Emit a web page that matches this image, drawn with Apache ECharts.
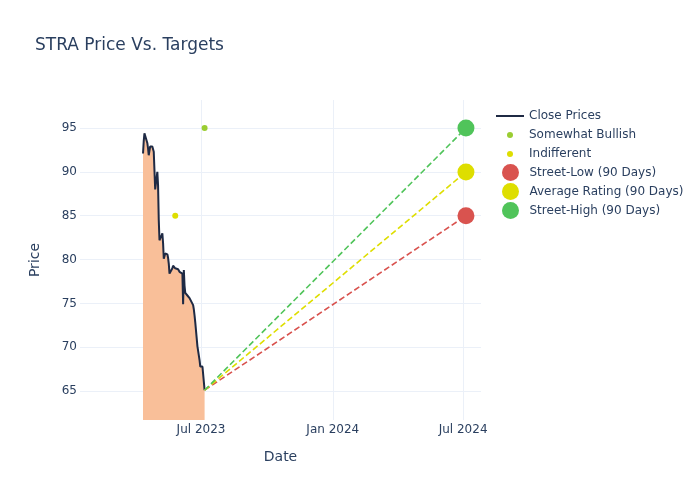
<!DOCTYPE html>
<html>
<head>
<meta charset="utf-8">
<script src="https://cdn.jsdelivr.net/npm/echarts@6/dist/echarts.min.js"></script>
<style>html,body{margin:0;padding:0;background:#fff}#c{width:700px;height:500px}</style>
</head>
<body>
<div id="c"></div>
<script>
const closeDates = ['2023-04-11','2023-04-12','2023-04-13','2023-04-14','2023-04-17','2023-04-18','2023-04-19','2023-04-20','2023-04-21','2023-04-24','2023-04-25','2023-04-26','2023-04-27','2023-04-28','2023-05-01','2023-05-02','2023-05-03','2023-05-04','2023-05-05','2023-05-08','2023-05-09','2023-05-10','2023-05-11','2023-05-12','2023-05-15','2023-05-16','2023-05-17','2023-05-18','2023-05-19','2023-05-22','2023-05-23','2023-05-24','2023-05-25','2023-05-26','2023-05-30','2023-05-31','2023-06-01','2023-06-02','2023-06-05','2023-06-06','2023-06-07','2023-06-08','2023-06-09','2023-06-12','2023-06-13','2023-06-14','2023-06-15','2023-06-16','2023-06-20','2023-06-21','2023-06-22','2023-06-23','2023-06-26','2023-06-27','2023-06-28','2023-06-29','2023-06-30','2023-07-03','2023-07-05','2023-07-06'];
const closePrices = [92.1,93.5,94.4,94.3,93.3,92.7,91.9,92.4,92.9,92.9,92.8,92.3,92.2,88.0,90.0,88.5,84.5,82.2,82.0,83.0,81.9,80.1,80.3,80.7,80.6,80.2,79.5,78.4,78.6,79.0,79.3,79.4,79.2,79.0,78.9,78.8,78.6,78.5,78.4,74.9,78.8,77.0,76.2,75.9,75.8,75.7,75.6,75.5,74.8,74.3,73.6,72.8,70.1,70.2,70.1,68.5,67.8,67.8,67.6,65.1];
const somewhatBullish = [['2023-07-06', 95]];
const indifferent = [['2023-05-26', 85]];
const targetDate = '2024-07-05';
const streetLow = 85;
const averageRating = 90;
const streetHigh = 95;
const xTicks = ['2023-07-01','2024-01-01','2024-07-01'];
const xTickLabels = ['Jul 2023','Jan 2024','Jul 2024'];
const yTicks = [65,70,75,80,85,90,95];

const FONT = 'DejaVu Sans';
const TXT = '#2a3f5f';
const GRID = '#ebf0f8';
const cRed = '#d9534f', cYel = '#dede00', cGrn = '#50c45a';

const ts = d => new Date(d + 'T00:00:00Z').getTime();
const lastDate = ts(closeDates[closeDates.length - 1]);
const lastClose = closePrices[closePrices.length - 1];
const tDate = ts(targetDate);
const xTickTs = xTicks.map(ts);
const labelMap = {};
xTickTs.forEach((t, i) => labelMap[t] = xTickLabels[i]);
const pts = arr => arr.map(p => [ts(p[0]), p[1]]);

const chart = echarts.init(document.getElementById('c'), null, {renderer: 'canvas'});
const legendText = {color: TXT, fontSize: 12, fontFamily: FONT};
chart.setOption({
  animation: false,
  backgroundColor: '#fff',
  textStyle: {fontFamily: FONT},
  title: {text: 'STRA Price Vs. Targets', left: 30, top: 32, textStyle: {color: TXT, fontSize: 17, fontWeight: 'normal', fontFamily: FONT}},
  grid: {left: 80, right: 219, top: 100, bottom: 80, containLabel: false},
  legend: [
    {orient: 'vertical', left: 491, top: 105, itemWidth: 28, itemHeight: 2, itemGap: 5, textStyle: legendText,
     data: [{name: 'Close Prices', icon: 'rect'}]},
    {orient: 'vertical', left: 502, top: 124, itemWidth: 28, itemHeight: 6, itemGap: 7, textStyle: legendText,
     data: [{name: 'Somewhat Bullish', icon: 'circle'}, {name: 'Indifferent', icon: 'circle'}]},
    {orient: 'vertical', left: 497, top: 159, itemWidth: 28, itemHeight: 17, itemGap: 2, textStyle: legendText,
     data: [{name: 'Street-Low (90 Days)', icon: 'circle'}, {name: 'Average Rating (90 Days)', icon: 'circle'}, {name: 'Street-High (90 Days)', icon: 'circle'}]}
  ],
  xAxis: {
    type: 'value', min: ts('2023-01-13'), max: ts('2024-07-26'),
    name: 'Date', nameLocation: 'middle', nameGap: 30,
    nameTextStyle: {color: TXT, fontSize: 14, fontFamily: FONT},
    axisLine: {show: false},
    axisTick: {show: false, customValues: xTickTs},
    axisLabel: {customValues: xTickTs, color: TXT, fontSize: 12, fontFamily: FONT, margin: 4,
      formatter: v => labelMap[v] || ''},
    splitLine: {show: true, lineStyle: {color: GRID, width: 1}}
  },
  yAxis: {
    type: 'value', min: 61.7, max: 98.2,
    name: 'Price', nameLocation: 'middle', nameGap: 38,
    nameTextStyle: {color: TXT, fontSize: 14, fontFamily: FONT},
    axisLine: {show: false},
    axisTick: {show: false, customValues: yTicks},
    axisLabel: {customValues: yTicks, color: TXT, fontSize: 12, fontFamily: FONT, margin: 3},
    splitLine: {show: true, lineStyle: {color: GRID, width: 1}}
  },
  series: [
    {name: 'Close Prices', type: 'line', data: closeDates.map((d, i) => [ts(d), closePrices[i]]),
     showSymbol: false, symbol: 'none', color: '#1f2a44',
     lineStyle: {color: '#1f2a44', width: 2},
     areaStyle: {color: '#f9bf99', opacity: 1, origin: 'start'}, z: 2},
    {name: 'low-line', type: 'line', data: [[lastDate, lastClose], [tDate, streetLow]], symbol: 'none',
     lineStyle: {color: cRed, width: 1.6, type: [6, 3]}, z: 3},
    {name: 'avg-line', type: 'line', data: [[lastDate, lastClose], [tDate, averageRating]], symbol: 'none',
     lineStyle: {color: cYel, width: 1.6, type: [6, 3]}, z: 3},
    {name: 'high-line', type: 'line', data: [[lastDate, lastClose], [tDate, streetHigh]], symbol: 'none',
     lineStyle: {color: cGrn, width: 1.6, type: [6, 3]}, z: 3},
    {name: 'Somewhat Bullish', type: 'scatter', data: pts(somewhatBullish), symbolSize: 6, itemStyle: {color: '#9acd32', opacity: 1}, z: 4},
    {name: 'Indifferent', type: 'scatter', data: pts(indifferent), symbolSize: 6, itemStyle: {color: cYel, opacity: 1}, z: 4},
    {name: 'Street-Low (90 Days)', type: 'scatter', data: [[tDate, streetLow]], symbolSize: 17, itemStyle: {color: cRed, opacity: 1}, z: 5},
    {name: 'Average Rating (90 Days)', type: 'scatter', data: [[tDate, averageRating]], symbolSize: 17, itemStyle: {color: cYel, opacity: 1}, z: 5},
    {name: 'Street-High (90 Days)', type: 'scatter', data: [[tDate, streetHigh]], symbolSize: 17, itemStyle: {color: cGrn, opacity: 1}, z: 5}
  ]
});
</script>
</body>
</html>
